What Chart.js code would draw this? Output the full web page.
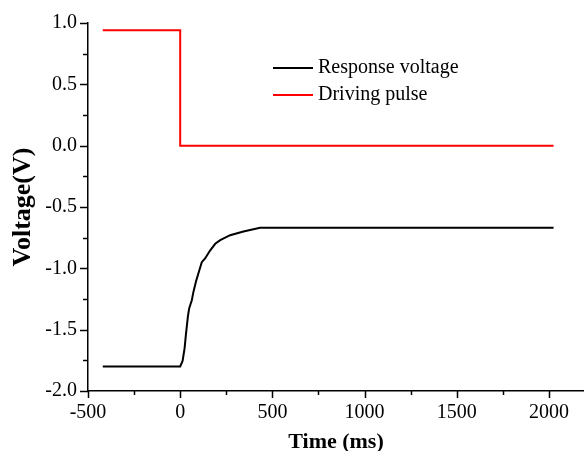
<!DOCTYPE html>
<html lang="en">
<head>
    <meta charset="UTF-8">
    <title>Response voltage</title>
    <style>
        body {
            margin: 0;
            background-color: #fff;
        }
        .chart-box {
            width: 584px;
            height: 451px;
        }
    </style>
</head>
<body>
    <div class="chart-box">
        <canvas id="voltChart"></canvas>
    </div>

    <script src="https://cdn.jsdelivr.net/npm/chart.js"></script>
    <script>
        // values (time in ms, voltage in V)
        const responseTime = [-420, 0, 13, 24, 31, 42, 49, 63, 72, 87, 99, 117, 135, 162, 190, 217, 271, 343, 433, 2025];
        const responseVolt = [-1.80, -1.80, -1.755, -1.65, -1.54, -1.39, -1.325, -1.26, -1.19, -1.10, -1.04, -0.95, -0.92, -0.855, -0.80, -0.77, -0.73, -0.70, -0.67, -0.67];
        const pulseTime = [-420, 0, 0, 2025];
        const pulseVolt = [0.94, 0.94, 0, 0];

        // tick values, every other one gets a label
        const xTicks = [-500, -250, 0, 250, 500, 750, 1000, 1250, 1500, 1750, 2000];
        const yTicks = [-2, -1.75, -1.5, -1.25, -1, -0.75, -0.5, -0.25, 0, 0.25, 0.5, 0.75, 1];
        const xMajor = 500;
        const yMajor = 0.5;

        const serif = "'Liberation Serif', 'Times New Roman', serif";

        function toPoints(xs, ys) {
            return xs.map((x, i) => ({ x: x, y: ys[i] }));
        }

        function isMajor(v, step) {
            return Math.abs(Math.round(v / step) * step - v) < 1e-6;
        }

        // outward ticks, long for labelled values, short for the others
        const tickPlugin = {
            id: 'outTicks',
            afterDraw(chart) {
                const ctx = chart.ctx;
                const xs = chart.scales.x;
                const ys = chart.scales.y;
                const area = chart.chartArea;
                ctx.save();
                ctx.strokeStyle = '#000';
                ctx.lineWidth = 1.5;
                xs.ticks.forEach(t => {
                    const px = Math.round(xs.getPixelForValue(t.value)) + 0.5;
                    const len = isMajor(t.value, xMajor) ? 7 : 4;
                    ctx.beginPath();
                    ctx.moveTo(px, area.bottom);
                    ctx.lineTo(px, area.bottom + len);
                    ctx.stroke();
                });
                ys.ticks.forEach(t => {
                    const py = Math.round(ys.getPixelForValue(t.value)) + 0.5;
                    const len = isMajor(t.value, yMajor) ? 8 : 5;
                    ctx.beginPath();
                    ctx.moveTo(area.left, py);
                    ctx.lineTo(area.left - len, py);
                    ctx.stroke();
                });

                // legend inside the plot
                const lx = area.left + 185;
                let ly = area.top + 45;
                ctx.font = '20px ' + serif;
                ctx.textBaseline = 'middle';
                ctx.fillStyle = '#000';
                chart.data.datasets.forEach(ds => {
                    ctx.strokeStyle = ds.borderColor;
                    ctx.lineWidth = 2;
                    ctx.beginPath();
                    ctx.moveTo(lx, ly);
                    ctx.lineTo(lx + 40, ly);
                    ctx.stroke();
                    ctx.fillText(ds.label, lx + 45, ly);
                    ly += 27;
                });
                ctx.restore();
            }
        };

        const ctx = document.getElementById('voltChart').getContext('2d');
        const voltChart = new Chart(ctx, {
            type: 'line',
            data: {
                datasets: [{
                    label: 'Response voltage',
                    data: toPoints(responseTime, responseVolt),
                    borderColor: '#000000',
                    borderWidth: 2,
                    pointRadius: 0,
                    tension: 0,
                    fill: false
                }, {
                    label: 'Driving pulse',
                    data: toPoints(pulseTime, pulseVolt),
                    borderColor: '#ff0000',
                    borderWidth: 2,
                    pointRadius: 0,
                    tension: 0,
                    fill: false
                }]
            },
            options: {
                responsive: true,
                maintainAspectRatio: false,
                animation: false,
                layout: {
                    padding: { top: 19, right: 0, left: 0, bottom: 0 }
                },
                plugins: {
                    legend: { display: false },
                    tooltip: { enabled: false }
                },
                scales: {
                    x: {
                        type: 'linear',
                        min: -500,
                        max: 2190,
                        afterBuildTicks(scale) { scale.ticks = xTicks.map(v => ({ value: v })); },
                        afterFit(scale) { scale.height = 60; },
                        ticks: {
                            autoSkip: false,
                            maxRotation: 0,
                            padding: 10,
                            color: '#000',
                            font: { family: serif, size: 20 },
                            callback: v => isMajor(v, xMajor) ? String(v) : ''
                        },
                        grid: { drawOnChartArea: false, drawTicks: false },
                        border: { display: true, color: '#000', width: 1.5 },
                        title: {
                            display: true,
                            text: 'Time (ms)',
                            color: '#000',
                            font: { family: serif, size: 22, weight: 'bold', lineHeight: 0.8 },
                            padding: { top: 0, bottom: 0 }
                        }
                    },
                    y: {
                        min: -2,
                        max: 1,
                        afterBuildTicks(scale) { scale.ticks = yTicks.map(v => ({ value: v })); },
                        afterFit(scale) { scale.width = 88; },
                        ticks: {
                            autoSkip: false,
                            padding: 11,
                            color: '#000',
                            font: { family: serif, size: 20 },
                            callback: v => isMajor(v, yMajor) ? v.toFixed(1) : ''
                        },
                        grid: { drawOnChartArea: false, drawTicks: false },
                        border: { display: true, color: '#000', width: 1.5 },
                        title: {
                            display: true,
                            text: 'Voltage(V)',
                            color: '#000',
                            font: { family: serif, size: 26, weight: 'bold' },
                            padding: { top: 8, bottom: 0 }
                        }
                    }
                }
            },
            plugins: [tickPlugin]
        });
    </script>
</body>
</html>
